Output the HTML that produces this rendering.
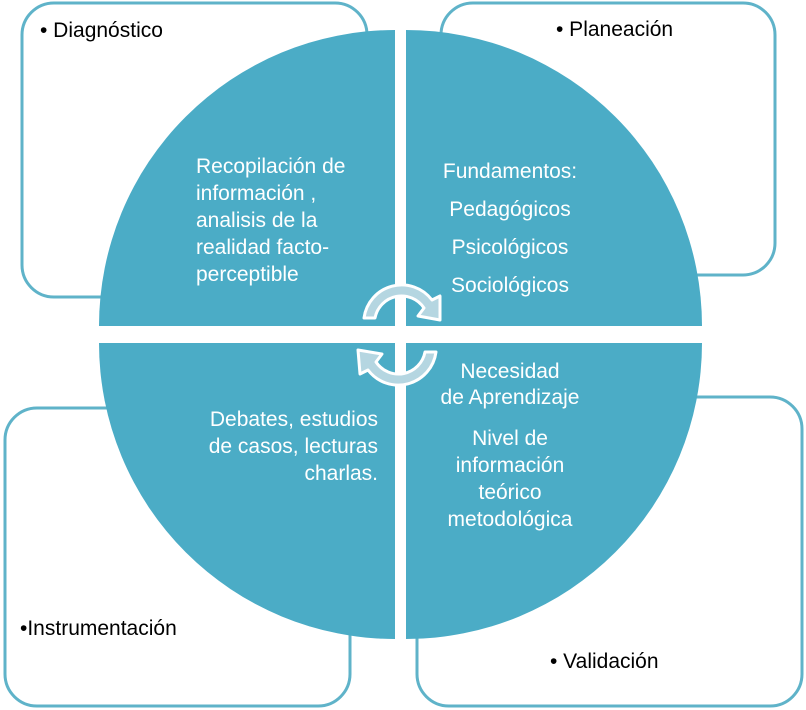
<!DOCTYPE html>
<html><head><meta charset="utf-8"><style>
body{margin:0;width:806px;height:710px;background:#fff;overflow:hidden;position:relative;font-family:"Liberation Sans",sans-serif}
.t{position:absolute;font-size:21px;line-height:24px;white-space:nowrap}
.w{color:#fff;text-align:center}
</style></head><body>
<svg width="806" height="710" style="position:absolute;left:0;top:0">
<g fill="#fff" stroke="#5fb3c9" stroke-width="3">
<rect x="22" y="3" width="345" height="294" rx="32"/>
<rect x="441" y="3" width="334" height="272" rx="32"/>
<rect x="5" y="408" width="345" height="298" rx="32"/>
<rect x="417" y="397" width="385" height="309" rx="32"/>
</g>
<g fill="#4bacc6">
<path d="M395 326 L99 326 A296 296 0 0 1 395 30 Z"/>
<path d="M406 326 L406 30 A296 296 0 0 1 702 326 Z"/>
<path d="M395 343 L395 639 A296 296 0 0 1 99 343 Z"/>
<path d="M406 343 L702 343 A296 296 0 0 1 406 639 Z"/>
</g>
<g stroke-linejoin="round">
<path d="M364 318 A38 38 0 0 1 432 300 L440 296 L440 320 L418 316 L424 308 A27 27 0 0 0 375 318 Z" fill="#b5d6e1" stroke="#fff" stroke-width="3"/>
<path d="M436 352 A38 38 0 0 1 368 370 L360 374 L358 350 L382 354 L376 362 A27 27 0 0 0 425 352 Z" fill="#b5d6e1" stroke="#fff" stroke-width="3"/>
</g>
</svg>
<div class="t" style="left:40px;top:19px">• Diagnóstico</div>
<div class="t" style="left:556px;top:18px">• Planeación</div>
<div class="t" style="left:20px;top:617px">•Instrumentación</div>
<div class="t" style="left:550px;top:650px">• Validación</div>
<div class="t w" style="top:153px;width:200px;text-align:left;line-height:27px;left:196px">Recopilación de<br>información ,<br>analisis de la<br>realidad facto-<br>perceptible</div>
<div class="t w" style="left:410px;top:153px;width:200px;line-height:38px">Fundamentos:<br>Pedagógicos<br>Psicológicos<br>Sociológicos</div>
<div class="t w" style="top:406px;width:240px;text-align:right;line-height:27px;left:138px">Debates, estudios<br>de casos, lecturas<br>charlas.</div>
<div class="t w" style="left:410px;top:359px;width:200px;line-height:26px">Necesidad<br>de Aprendizaje</div>
<div class="t w" style="left:410px;top:425px;width:200px;line-height:27px">Nivel de<br>información<br>teórico<br>metodológica</div>
</body></html>
